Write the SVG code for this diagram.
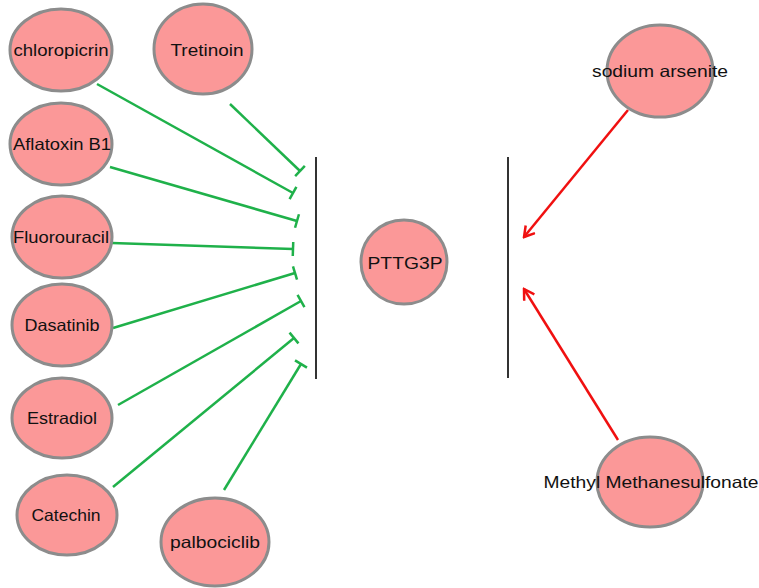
<svg xmlns="http://www.w3.org/2000/svg" width="759" height="588" viewBox="0 0 759 588">
<style>
.node ellipse{fill:#fb9898;stroke:#8c8c8c;stroke-width:3}
.node text{font-family:"Liberation Sans",Arial,sans-serif;font-size:16.5px;fill:#111;text-anchor:middle}
.inh{stroke:#1fb14a;stroke-width:2.5;fill:none;marker-end:url(#tbar)}
.act{stroke:#f01010;stroke-width:2.5;fill:none;marker-end:url(#arrow)}
.bar{stroke:#333;stroke-width:2}
</style>
<defs>
<marker id="tbar" markerUnits="userSpaceOnUse" markerWidth="6" markerHeight="16" viewBox="-3 -8 6 16" refX="0" refY="0" orient="auto">
<path d="M0,-7 L0,7" stroke="#1fb14a" stroke-width="2.5"/>
</marker>
<marker id="arrow" markerUnits="userSpaceOnUse" markerWidth="14" markerHeight="14" viewBox="-12 -7 14 14" refX="0" refY="0" orient="auto">
<path d="M-10,-6 L0,0 L-10,6" stroke="#f01010" stroke-width="2.5" fill="none"/>
</marker>
</defs>
<g id="connectors">
<line class="bar" x1="316" y1="157" x2="316" y2="379"/>
<line class="bar" x1="508" y1="157" x2="508" y2="378"/>
<line class="inh" x1="230" y1="104" x2="300" y2="171"/>
<line class="inh" x1="97" y1="84" x2="293" y2="193"/>
<line class="inh" x1="110" y1="167" x2="297" y2="221"/>
<line class="inh" x1="112" y1="243" x2="293" y2="249"/>
<line class="inh" x1="113" y1="328" x2="295" y2="273"/>
<line class="inh" x1="118" y1="405" x2="301" y2="301"/>
<line class="inh" x1="113" y1="487" x2="294" y2="338"/>
<line class="inh" x1="224" y1="490" x2="301" y2="364"/>
<line class="act" x1="628" y1="110" x2="524" y2="237"/>
<line class="act" x1="618" y1="440" x2="524" y2="289"/>
</g>
<g id="chloropicrin" class="node"><ellipse cx="61" cy="50" rx="51" ry="41"/><text x="61" y="56" textLength="95" lengthAdjust="spacingAndGlyphs">chloropicrin</text></g>
<g id="Tretinoin" class="node"><ellipse cx="203" cy="49" rx="49" ry="45"/><text x="207" y="56" textLength="73" lengthAdjust="spacingAndGlyphs">Tretinoin</text></g>
<g id="AflatoxinB1" class="node"><ellipse cx="61" cy="144" rx="51" ry="41"/><text x="62" y="150" textLength="98" lengthAdjust="spacingAndGlyphs">Aflatoxin B1</text></g>
<g id="Fluorouracil" class="node"><ellipse cx="62" cy="237" rx="50" ry="41"/><text x="61" y="243" textLength="96" lengthAdjust="spacingAndGlyphs">Fluorouracil</text></g>
<g id="Dasatinib" class="node"><ellipse cx="62" cy="325" rx="50" ry="41"/><text x="62" y="331" textLength="75" lengthAdjust="spacingAndGlyphs">Dasatinib</text></g>
<g id="Estradiol" class="node"><ellipse cx="62" cy="418" rx="50" ry="40"/><text x="62" y="424" textLength="70" lengthAdjust="spacingAndGlyphs">Estradiol</text></g>
<g id="Catechin" class="node"><ellipse cx="67" cy="515" rx="50" ry="40"/><text x="66" y="521" textLength="69" lengthAdjust="spacingAndGlyphs">Catechin</text></g>
<g id="palbociclib" class="node"><ellipse cx="215" cy="542" rx="54" ry="44"/><text x="215" y="548" textLength="90" lengthAdjust="spacingAndGlyphs">palbociclib</text></g>
<g id="PTTG3P" class="node"><ellipse cx="404" cy="262" rx="43" ry="42"/><text x="405" y="269" textLength="75" lengthAdjust="spacingAndGlyphs">PTTG3P</text></g>
<g id="sodium_arsenite" class="node"><ellipse cx="660" cy="71" rx="53" ry="46"/><text x="660" y="77" textLength="136" lengthAdjust="spacingAndGlyphs">sodium arsenite</text></g>
<g id="Methyl_Methanesulfonate" class="node"><ellipse cx="650" cy="482" rx="53" ry="45"/><text x="651" y="488" textLength="215" lengthAdjust="spacingAndGlyphs">Methyl Methanesulfonate</text></g>
</svg>
